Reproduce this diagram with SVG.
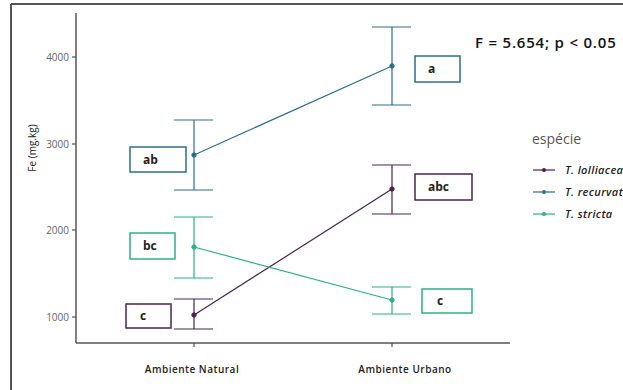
<svg xmlns="http://www.w3.org/2000/svg" width="623" height="390" viewBox="0 0 623 390">
<style>
.frame{stroke:#555;stroke-width:2;fill:none}
.axis{stroke:#555;stroke-width:1.5;fill:none}
.tick{font-family:"Open Sans","Liberation Sans",sans-serif;font-size:10px;fill:#666;text-anchor:end}
.xlab{font-family:"Open Sans","Liberation Sans",sans-serif;font-size:10px;font-weight:600;fill:#222;text-anchor:middle;letter-spacing:0.5px}
.ytitle{font-family:"Open Sans","Liberation Sans",sans-serif;font-size:10px;fill:#222;text-anchor:middle}
.box{fill:#fff;stroke-width:1.5}
.lbl{font-family:"Open Sans","Liberation Sans",sans-serif;font-size:12px;font-weight:700;fill:#222}
.pur{stroke:#4B2350}
.blu{stroke:#2E6F8C}
.grn{stroke:#2BB08A}
.line{stroke-width:1.2;fill:none}
.leg{font-family:"Open Sans","Liberation Sans",sans-serif;font-size:11px;font-style:italic;font-weight:600;fill:#222;letter-spacing:0.4px}
</style>
<rect width="623" height="390" fill="#fff"/>
<g id="frame">
<line class="frame" x1="11" y1="4" x2="623" y2="4"/>
<line class="frame" x1="11" y1="4" x2="11" y2="390"/>
</g>
<g id="axes">
<line class="axis" x1="76" y1="13" x2="76" y2="343"/>
<line class="axis" x1="76" y1="343" x2="510" y2="343"/>
<g stroke="#555" stroke-width="1.2">
<line x1="72" y1="57" x2="76" y2="57"/>
<line x1="72" y1="144" x2="76" y2="144"/>
<line x1="72" y1="230" x2="76" y2="230"/>
<line x1="72" y1="317" x2="76" y2="317"/>
<line x1="194" y1="343" x2="194" y2="347"/>
<line x1="392" y1="343" x2="392" y2="347"/>
</g>
<text class="tick" x="69" y="61">4000</text>
<text class="tick" x="69" y="148">3000</text>
<text class="tick" x="69" y="234">2000</text>
<text class="tick" x="69" y="321">1000</text>
<text class="xlab" x="192" y="373">Ambiente Natural</text>
<text class="xlab" x="405" y="373">Ambiente Urbano</text>
<text class="ytitle" transform="translate(36,148) rotate(-90)">Fe (mg.kg)</text>
</g>
<g id="connectors">
<g id="recurvata" class="blu">
<line class="line" x1="194" y1="155" x2="392" y2="66"/>
<line class="line" x1="194" y1="120" x2="194" y2="190"/>
<line class="line" x1="174" y1="120" x2="213" y2="120"/>
<line class="line" x1="174" y1="190" x2="213" y2="190"/>
<line class="line" x1="392" y1="27" x2="392" y2="105"/>
<line class="line" x1="372" y1="27" x2="411" y2="27"/>
<line class="line" x1="372" y1="105" x2="411" y2="105"/>
<circle cx="194" cy="155" r="2.2" fill="#2E6F8C"/>
<circle cx="392" cy="66" r="2.2" fill="#2E6F8C"/>
</g>
<g id="lolliacea" class="pur">
<line class="line" x1="194" y1="315" x2="392" y2="189"/>
<line class="line" x1="194" y1="299" x2="194" y2="329"/>
<line class="line" x1="174" y1="299" x2="213" y2="299"/>
<line class="line" x1="174" y1="329" x2="213" y2="329"/>
<line class="line" x1="392" y1="165" x2="392" y2="214"/>
<line class="line" x1="372" y1="165" x2="411" y2="165"/>
<line class="line" x1="372" y1="214" x2="411" y2="214"/>
<circle cx="194" cy="315" r="2.2" fill="#4B2350"/>
<circle cx="392" cy="189" r="2.2" fill="#4B2350"/>
</g>
<g id="stricta" class="grn">
<line class="line" x1="194" y1="247" x2="392" y2="300"/>
<line class="line" x1="194" y1="217" x2="194" y2="278"/>
<line class="line" x1="174" y1="217" x2="213" y2="217"/>
<line class="line" x1="174" y1="278" x2="213" y2="278"/>
<line class="line" x1="392" y1="287" x2="392" y2="314"/>
<line class="line" x1="372" y1="287" x2="411" y2="287"/>
<line class="line" x1="372" y1="314" x2="411" y2="314"/>
<circle cx="194" cy="247" r="2.2" fill="#2BB08A"/>
<circle cx="392" cy="300" r="2.2" fill="#2BB08A"/>
</g>
</g>
<g id="label-ab"><rect class="box blu" x="130" y="147" width="56" height="25"/><text class="lbl" x="143" y="164">ab</text></g>
<g id="label-a"><rect class="box blu" x="415" y="56" width="45" height="26"/><text class="lbl" x="428" y="73">a</text></g>
<g id="label-abc"><rect class="box pur" x="415" y="174" width="57" height="26"/><text class="lbl" x="428" y="191">abc</text></g>
<g id="label-bc"><rect class="box grn" x="130" y="233" width="45" height="26"/><text class="lbl" x="143" y="250">bc</text></g>
<g id="label-c1"><rect class="box pur" x="126" y="304" width="45" height="24"/><text class="lbl" x="140" y="320">c</text></g>
<g id="label-c2"><rect class="box grn" x="422" y="289" width="50" height="24"/><text class="lbl" x="437" y="305">c</text></g>
<g id="stat"><text x="475" y="48" font-family="Open Sans, Liberation Sans, sans-serif" font-size="15" font-weight="600" letter-spacing="0.8" fill="#111">F = 5.654; p &lt; 0.05</text></g>
<g id="legend">
<text x="532" y="144" font-family="Open Sans, Liberation Sans, sans-serif" font-size="14" fill="#555">espécie</text>
<line x1="533" y1="170" x2="555" y2="170" stroke="#4B2350" stroke-width="1.2"/><circle cx="544" cy="170" r="2" fill="#4B2350"/>
<text class="leg" x="565" y="174">T. lolliacea</text>
<line x1="533" y1="192" x2="555" y2="192" stroke="#2E6F8C" stroke-width="1.2"/><circle cx="544" cy="192" r="2" fill="#2E6F8C"/>
<text class="leg" x="565" y="196">T. recurvata</text>
<line x1="533" y1="214" x2="555" y2="214" stroke="#2BB08A" stroke-width="1.2"/><circle cx="544" cy="214" r="2" fill="#2BB08A"/>
<text class="leg" x="565" y="218">T. stricta</text>
</g>
</svg>
